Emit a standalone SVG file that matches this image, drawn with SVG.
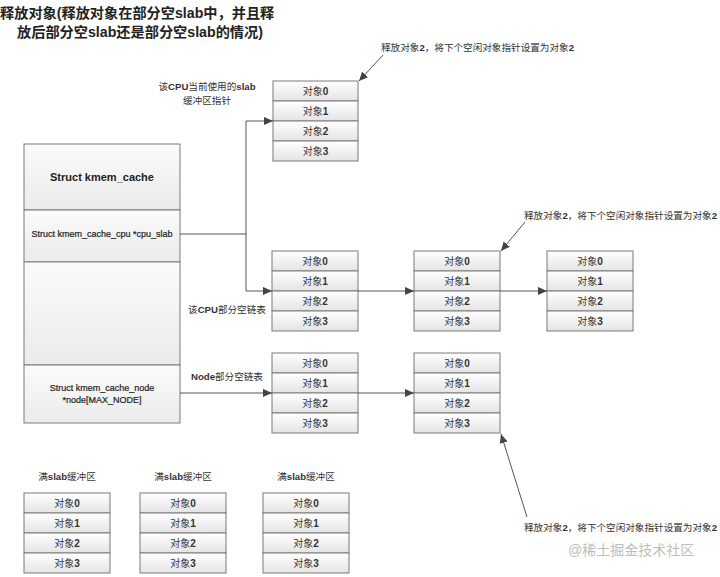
<svg xmlns="http://www.w3.org/2000/svg" width="720" height="577" viewBox="0 0 720 577">
<defs>
  <linearGradient id="g" x1="0" y1="0" x2="0" y2="1">
    <stop offset="0" stop-color="#ffffff"/>
    <stop offset="1" stop-color="#e4e4e4"/>
  </linearGradient>
  <linearGradient id="g2" x1="0" y1="0" x2="0" y2="1">
    <stop offset="0" stop-color="#fbfbfb"/>
    <stop offset="1" stop-color="#ebebeb"/>
  </linearGradient>
  <marker id="ah" viewBox="0 0 10 10" refX="10" refY="5" markerWidth="9" markerHeight="9" markerUnits="userSpaceOnUse" orient="auto">
    <path d="M0,0.5 L10,5 L0,9.5 z" fill="#444"/>
  </marker>
  <style>
    text { font-family: "Liberation Sans", "Noto Sans CJK SC", sans-serif; fill: #333; }
    .row { fill: url(#g); stroke: #7a7a7a; stroke-width: 1; }
    .sec { fill: url(#g2); stroke: #7a7a7a; stroke-width: 1; }
    .cell { font-size: 10px; text-anchor: middle; dominant-baseline: central; }
    .lbl { font-size: 9.6px; }
    .ann { font-size: 9.6px; }
    .title { font-size: 14.2px; font-weight: bold; fill: #222; }
    .st { fill: #222; }
    .conn { fill: none; stroke: #555; stroke-width: 1; }
    .arr { marker-end: url(#ah); }
  </style>
</defs>
<rect width="720" height="577" fill="#ffffff"/>

<g id="title">
  <text class="title" x="0" y="18">释放对象(释放对象在部分空slab中，并且释</text>
  <text class="title" x="17" y="37">放后部分空slab还是部分空slab的情况)</text>
</g>

<g id="kmem_cache">
  <rect class="sec" x="24" y="144" width="156" height="66"/>
  <rect class="sec" x="24" y="210" width="156" height="52"/>
  <rect class="sec" x="24" y="262" width="156" height="103"/>
  <rect class="sec" x="24" y="365" width="156" height="58"/>
  <text class="st" x="102" y="177" font-size="11" font-weight="bold" text-anchor="middle" dominant-baseline="central">Struct kmem_cache</text>
  <text class="st" x="102" y="234" font-size="9" text-anchor="middle" dominant-baseline="central" stroke="#222" stroke-width="0.2">Struct kmem_cache_cpu *cpu_slab</text>
  <text class="st" x="102" y="388" font-size="9" text-anchor="middle" dominant-baseline="central" stroke="#222" stroke-width="0.2">Struct kmem_cache_node</text>
  <text class="st" x="102" y="400" font-size="9" text-anchor="middle" dominant-baseline="central" stroke="#222" stroke-width="0.2">*node[MAX_NODE]</text>
</g>

<g id="cpu_slab_current">
  <rect class="row" x="273" y="81" width="85" height="20"/>
  <rect class="row" x="273" y="101" width="85" height="20"/>
  <rect class="row" x="273" y="121" width="85" height="20"/>
  <rect class="row" x="273" y="141" width="85" height="20"/>
  <text class="cell" x="315.5" y="91">对象<tspan font-weight="bold">0</tspan></text>
  <text class="cell" x="315.5" y="111">对象<tspan font-weight="bold">1</tspan></text>
  <text class="cell" x="315.5" y="131">对象<tspan font-weight="bold">2</tspan></text>
  <text class="cell" x="315.5" y="151">对象<tspan font-weight="bold">3</tspan></text>
</g>

<g id="cpu_partial_1">
  <rect class="row" x="272" y="251" width="86" height="20"/>
  <rect class="row" x="272" y="271" width="86" height="20"/>
  <rect class="row" x="272" y="291" width="86" height="20"/>
  <rect class="row" x="272" y="311" width="86" height="20"/>
  <text class="cell" x="315" y="261">对象<tspan font-weight="bold">0</tspan></text>
  <text class="cell" x="315" y="281">对象<tspan font-weight="bold">1</tspan></text>
  <text class="cell" x="315" y="301">对象<tspan font-weight="bold">2</tspan></text>
  <text class="cell" x="315" y="321">对象<tspan font-weight="bold">3</tspan></text>
</g>

<g id="cpu_partial_2">
  <rect class="row" x="414" y="251" width="86" height="20"/>
  <rect class="row" x="414" y="271" width="86" height="20"/>
  <rect class="row" x="414" y="291" width="86" height="20"/>
  <rect class="row" x="414" y="311" width="86" height="20"/>
  <text class="cell" x="457" y="261">对象<tspan font-weight="bold">0</tspan></text>
  <text class="cell" x="457" y="281">对象<tspan font-weight="bold">1</tspan></text>
  <text class="cell" x="457" y="301">对象<tspan font-weight="bold">2</tspan></text>
  <text class="cell" x="457" y="321">对象<tspan font-weight="bold">3</tspan></text>
</g>

<g id="cpu_partial_3">
  <rect class="row" x="547" y="251" width="86" height="20"/>
  <rect class="row" x="547" y="271" width="86" height="20"/>
  <rect class="row" x="547" y="291" width="86" height="20"/>
  <rect class="row" x="547" y="311" width="86" height="20"/>
  <text class="cell" x="590" y="261">对象<tspan font-weight="bold">0</tspan></text>
  <text class="cell" x="590" y="281">对象<tspan font-weight="bold">1</tspan></text>
  <text class="cell" x="590" y="301">对象<tspan font-weight="bold">2</tspan></text>
  <text class="cell" x="590" y="321">对象<tspan font-weight="bold">3</tspan></text>
</g>

<g id="node_partial_1">
  <rect class="row" x="272" y="353" width="86" height="20"/>
  <rect class="row" x="272" y="373" width="86" height="20"/>
  <rect class="row" x="272" y="393" width="86" height="20"/>
  <rect class="row" x="272" y="413" width="86" height="20"/>
  <text class="cell" x="315" y="363">对象<tspan font-weight="bold">0</tspan></text>
  <text class="cell" x="315" y="383">对象<tspan font-weight="bold">1</tspan></text>
  <text class="cell" x="315" y="403">对象<tspan font-weight="bold">2</tspan></text>
  <text class="cell" x="315" y="423">对象<tspan font-weight="bold">3</tspan></text>
</g>

<g id="node_partial_2">
  <rect class="row" x="414" y="353" width="86" height="20"/>
  <rect class="row" x="414" y="373" width="86" height="20"/>
  <rect class="row" x="414" y="393" width="86" height="20"/>
  <rect class="row" x="414" y="413" width="86" height="20"/>
  <text class="cell" x="457" y="363">对象<tspan font-weight="bold">0</tspan></text>
  <text class="cell" x="457" y="383">对象<tspan font-weight="bold">1</tspan></text>
  <text class="cell" x="457" y="403">对象<tspan font-weight="bold">2</tspan></text>
  <text class="cell" x="457" y="423">对象<tspan font-weight="bold">3</tspan></text>
</g>

<g id="full_1">
  <rect class="row" x="24" y="493" width="86" height="20"/>
  <rect class="row" x="24" y="513" width="86" height="20"/>
  <rect class="row" x="24" y="533" width="86" height="20"/>
  <rect class="row" x="24" y="553" width="86" height="20"/>
  <text class="cell" x="67" y="503">对象<tspan font-weight="bold">0</tspan></text>
  <text class="cell" x="67" y="523">对象<tspan font-weight="bold">1</tspan></text>
  <text class="cell" x="67" y="543">对象<tspan font-weight="bold">2</tspan></text>
  <text class="cell" x="67" y="563">对象<tspan font-weight="bold">3</tspan></text>
</g>

<g id="full_2">
  <rect class="row" x="140" y="493" width="86" height="20"/>
  <rect class="row" x="140" y="513" width="86" height="20"/>
  <rect class="row" x="140" y="533" width="86" height="20"/>
  <rect class="row" x="140" y="553" width="86" height="20"/>
  <text class="cell" x="183" y="503">对象<tspan font-weight="bold">0</tspan></text>
  <text class="cell" x="183" y="523">对象<tspan font-weight="bold">1</tspan></text>
  <text class="cell" x="183" y="543">对象<tspan font-weight="bold">2</tspan></text>
  <text class="cell" x="183" y="563">对象<tspan font-weight="bold">3</tspan></text>
</g>

<g id="full_3">
  <rect class="row" x="263" y="493" width="86" height="20"/>
  <rect class="row" x="263" y="513" width="86" height="20"/>
  <rect class="row" x="263" y="533" width="86" height="20"/>
  <rect class="row" x="263" y="553" width="86" height="20"/>
  <text class="cell" x="306" y="503">对象<tspan font-weight="bold">0</tspan></text>
  <text class="cell" x="306" y="523">对象<tspan font-weight="bold">1</tspan></text>
  <text class="cell" x="306" y="543">对象<tspan font-weight="bold">2</tspan></text>
  <text class="cell" x="306" y="563">对象<tspan font-weight="bold">3</tspan></text>
</g>

<g id="labels">
  <text class="lbl" x="207" y="86" text-anchor="middle" dominant-baseline="central">该<tspan font-weight="bold">CPU</tspan>当前使用的<tspan font-weight="bold">slab</tspan></text>
  <text class="lbl" x="207" y="100" text-anchor="middle" dominant-baseline="central">缓冲区指针</text>
  <text class="lbl" x="227" y="309" text-anchor="middle" dominant-baseline="central">该<tspan font-weight="bold">CPU</tspan>部分空链表</text>
  <text class="lbl" x="227" y="376" text-anchor="middle" dominant-baseline="central"><tspan font-weight="bold">Node</tspan>部分空链表</text>
  <text class="lbl" x="67" y="476" text-anchor="middle" dominant-baseline="central">满<tspan font-weight="bold">slab</tspan>缓冲区</text>
  <text class="lbl" x="183" y="476" text-anchor="middle" dominant-baseline="central">满<tspan font-weight="bold">slab</tspan>缓冲区</text>
  <text class="lbl" x="306" y="476" text-anchor="middle" dominant-baseline="central">满<tspan font-weight="bold">slab</tspan>缓冲区</text>
  <text class="ann" x="381" y="47" dominant-baseline="central">释放对象<tspan font-weight="bold">2</tspan>，将下个空闲对象指针设置为对象<tspan font-weight="bold">2</tspan></text>
  <text class="ann" x="524" y="215" dominant-baseline="central">释放对象<tspan font-weight="bold">2</tspan>，将下个空闲对象指针设置为对象<tspan font-weight="bold">2</tspan></text>
  <text class="ann" x="524" y="527" dominant-baseline="central">释放对象<tspan font-weight="bold">2</tspan>，将下个空闲对象指针设置为对象<tspan font-weight="bold">2</tspan></text>
</g>

<g id="connectors">
  <path class="conn arr" d="M180,234 H246 V121 H273"/>
  <path class="conn arr" d="M246,234 V291 H272"/>
  <path class="conn arr" d="M358,291 H414"/>
  <path class="conn arr" d="M500,291 H547"/>
  <path class="conn arr" d="M180,393 H272"/>
  <path class="conn arr" d="M358,393 H414"/>
  <path class="conn arr" d="M383,55 L359,81"/>
  <path class="conn arr" d="M525,222 L501,251"/>
  <path class="conn arr" d="M527,517 L501,434"/>
</g>

<text x="568" y="550" font-size="14" style="fill:#bdbdbd" dominant-baseline="central">@稀土掘金技术社区</text>
</svg>
